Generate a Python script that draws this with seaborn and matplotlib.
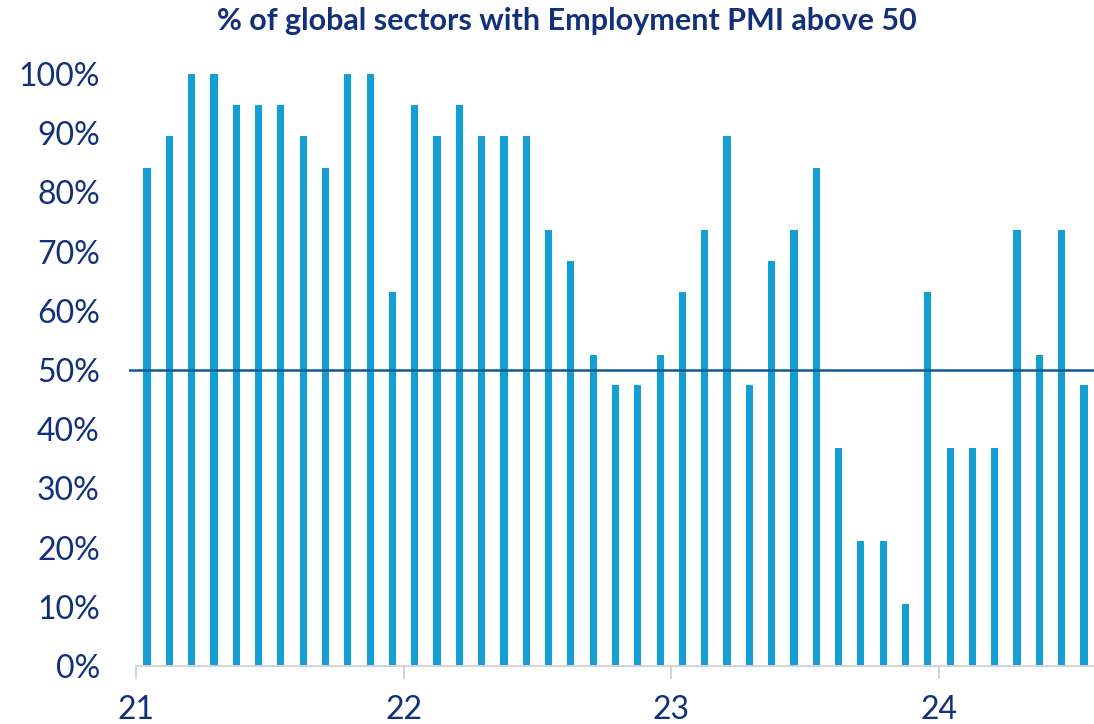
import matplotlib
matplotlib.use("Agg")
import matplotlib.pyplot as plt
import seaborn as sns
import pandas as pd

# Share of global sectors (19 in total) with an Employment PMI above 50, monthly Jan-21 .. Jul-24
share_pct = [
    84.2, 89.5, 100.0, 100.0, 94.7, 94.7, 94.7, 89.5, 84.2, 100.0, 100.0, 63.2,   # 2021
    94.7, 89.5, 94.7, 89.5, 89.5, 89.5, 73.7, 68.4, 52.6, 47.4, 47.4, 52.6,      # 2022
    63.2, 73.7, 89.5, 47.4, 68.4, 73.7, 84.2, 36.8, 21.1, 21.1, 10.5, 63.2,      # 2023
    36.8, 36.8, 36.8, 73.7, 52.6, 73.7, 47.4,                                    # 2024
]
year_labels = ["21", "22", "23", "24"]
y_ticks = [0, 10, 20, 30, 40, 50, 60, 70, 80, 90, 100]
threshold = 50
title = "% of global sectors with Employment PMI above 50"

bar_color = "#139FD4"
navy = "#13307A"
line_color = "#0B5A96"
axis_gray = "#D4D4D4"

sns.set_theme(style="white")
plt.rcParams["font.family"] = ["Lato", "DejaVu Sans"]

df = pd.DataFrame({"month": list(range(len(share_pct))), "share": share_pct})

fig = plt.figure(figsize=(10.94, 7.24), dpi=100)
ax = fig.add_axes([129 / 1094, 1 - 666 / 724, 1 - 129 / 1094, (666 - 74) / 724])

sns.barplot(data=df, x="month", y="share", color=bar_color, saturation=1,
            width=0.32, ax=ax, order=df["month"].tolist())
for p in ax.patches:
    p.set_edgecolor("none")

ax.axhline(threshold, color=line_color, lw=1.8, zorder=5)

ax.set_xlim(-0.81, len(share_pct) - 1 + 0.45)
ax.set_ylim(0, 100)

# year ticks sit at the start of each January
ax.set_xticks([-0.5 + 12 * i for i in range(len(year_labels))])
ax.set_xticklabels(year_labels, fontsize=23, color=navy)
ax.set_yticks(y_ticks)
ax.set_yticklabels([f"{t}%" for t in y_ticks], fontsize=23, color=navy)

ax.tick_params(axis="x", direction="out", length=9, width=1.4, color=axis_gray, pad=12, bottom=True)
ax.tick_params(axis="y", length=0, pad=21)

for side in ["top", "right", "left"]:
    ax.spines[side].set_visible(False)
ax.spines["bottom"].set_color(axis_gray)
ax.spines["bottom"].set_linewidth(1.4)
ax.spines["bottom"].set_bounds(-0.5, len(share_pct) - 1 + 0.45)

ax.set_xlabel("")
ax.set_ylabel("")

fig.text(0.518, 0.971, title, ha="center", va="center", fontsize=22,
         fontweight="bold", color=navy)

fig.savefig("out.png", dpi=100)
